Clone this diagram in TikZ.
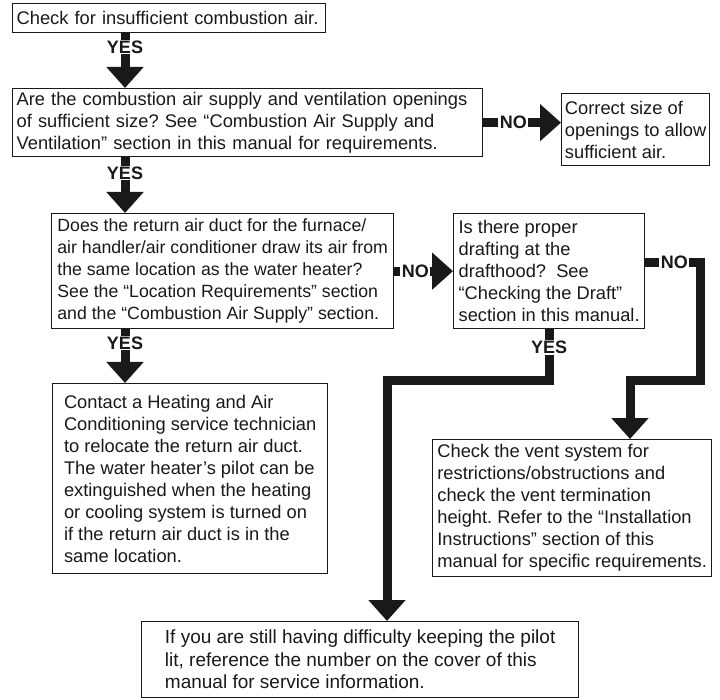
\documentclass[tikz,border=0pt]{standalone}
\usepackage{fontspec}
\setmainfont{Liberation Sans}
\usetikzlibrary{arrows.meta}
\frenchspacing
\begin{document}
\begin{tikzpicture}[x=1pt,y=-1pt,
  box/.style={draw=black!90, line width=1.3pt, align=left, anchor=north west, inner sep=0pt,
    font=\fontsize{18.3}{22}\selectfont\frenchspacing, text=black!90},
  flow/.style={line width=9pt, draw=black!90, line join=miter, -{Triangle[length=21pt,width=36pt]}},
  lbl/.style={fill=white, inner xsep=1.5pt, inner ysep=1pt, font=\fontsize{18}{20}\selectfont\bfseries, text=black!90}]
\useasboundingbox (0,0) rectangle (720,700);

% boxes
\node[box, inner xsep=4pt, text width=305pt, minimum height=29pt] (b1) at (12,3) {Check for insufficient combustion air.};
\node[box, inner xsep=4pt, text width=462pt, minimum height=68pt] (b2) at (12,88) {Are the combustion air supply and ventilation openings\\of sufficient size? See “Combustion Air Supply and\\Ventilation” section in this manual for requirements.};
\node[box, minimum width=148pt, minimum height=72pt] (b3) at (561,93) {Correct size of\\openings to allow\\sufficient air.};
\node[box, minimum width=342pt, minimum height=115pt, font=\fontsize{17.7}{22}\selectfont\frenchspacing] (b4) at (51,213) {Does the return air duct for the furnace/\\air handler/air conditioner draw its air from\\the same location as the water heater?\\See the “Location Requirements” section\\and the “Combustion Air Supply” section.};
\node[box, minimum width=275pt, minimum height=190pt] (b5) at (52,383) {Contact a Heating and Air\\Conditioning service technician\\to relocate the return air duct.\\The water heater’s pilot can be\\extinguished when the heating\\or cooling system is turned on\\if the return air duct is in the\\same location.};
\node[box, minimum width=191pt, minimum height=115pt] (b6) at (453,213) {Is there proper\\drafting at the\\drafthood?\ \ See\\“Checking the Draft”\\section in this manual.};
\node[box, minimum width=279pt, minimum height=137pt] (b7) at (432,439) {Check the vent system for\\restrictions/obstructions and\\check the vent termination\\height. Refer to the “Installation\\Instructions” section of this\\manual for specific requirements.};
\node[box, minimum width=437pt, minimum height=76pt, font=\fontsize{19}{22.5}\selectfont\frenchspacing] (b8) at (141,621) {If you are still having difficulty keeping the pilot\\lit, reference the number on the cover of this\\manual for service information.};

% helper coordinates
\coordinate (xa) at (125,0);
\coordinate (xr) at (700,381);
\coordinate (xb) at (630,381);
\coordinate (xc) at (387,381);

% connectors
\draw[flow] (b1.south -| xa) -- (b2.north -| xa);
\draw[flow] (b2.south -| xa) -- (b4.north -| xa);
\draw[flow] (b4.south -| xa) -- (b5.north -| xa);
\draw[flow] (b2.east) -- (b2.east -| b3.west);
\draw[flow] (b4.east) -- (b6.west);
\draw[flow] ([yshift=8.5pt]b6.east) -| (xr) -- (xb) -- (b7.north -| xb);
\draw[flow] (b6.south) |- (xc) -- (b8.north -| xc);

% labels
\node[lbl] at (125,47) {YES};
\node[lbl] at (125,173) {YES};
\node[lbl] at (125,343) {YES};
\node[lbl] at ([xshift=30pt]b2.east) {NO};
\node[lbl] at ([xshift=21pt]b4.east) {NO};
\node[lbl] at ([xshift=29pt,yshift=8.5pt]b6.east) {NO};
\node[lbl] at ([yshift=-18pt]b6.south) {YES};
\end{tikzpicture}
\end{document}
